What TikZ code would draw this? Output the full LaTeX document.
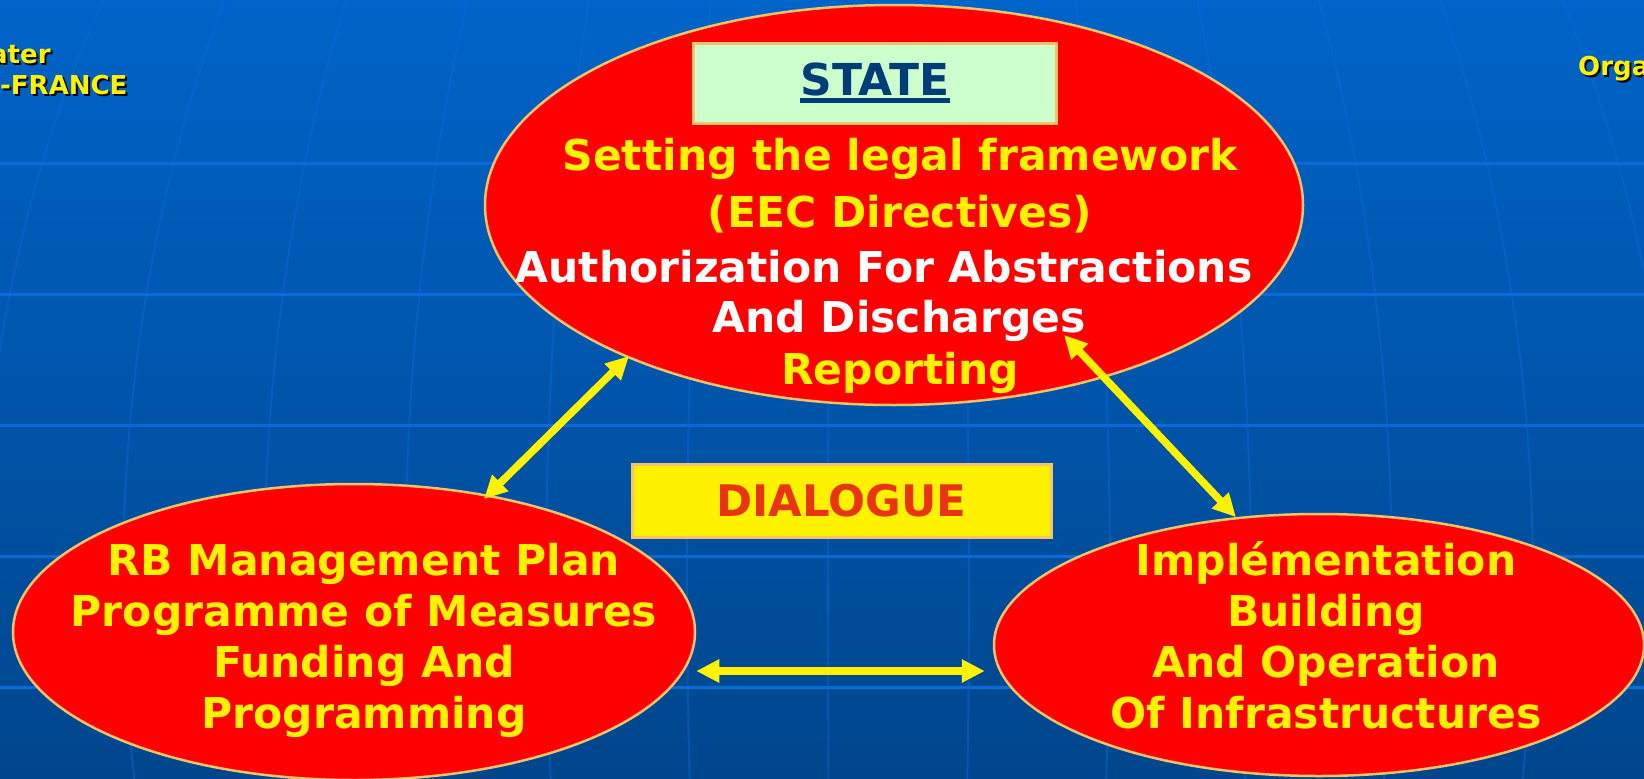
\documentclass[tikz,border=0pt]{standalone}
\usepackage{fontspec}
\setmainfont{DejaVu Sans}
\usetikzlibrary{arrows.meta,shapes.geometric}
\definecolor{bgtop}{HTML}{0064C8}
\definecolor{bgbot}{HTML}{00468C}
\definecolor{gridblue}{HTML}{0A6ADA}
\definecolor{rimorange}{HTML}{F5C46A}
\definecolor{statenavy}{HTML}{003C78}
\definecolor{palegreen}{HTML}{CCFFCC}
\definecolor{dlgred}{HTML}{E8350F}
\tikzset{
  topic/.style={ellipse,draw=rimorange,line width=2.5pt,fill=red,inner sep=0pt},
  topictext/.style={font=\bfseries\fontsize{42.5}{51}\selectfont,align=center,text=yellow,inner sep=0pt},
  label box/.style={draw=rimorange,line width=3pt,inner sep=0pt},
  link/.style={<->,>={Triangle[length=23pt,width=22pt]},draw=yellow,line width=7.5pt},
  headtext/.style={font=\bfseries\fontsize{26}{30}\selectfont,text=yellow,anchor=base west,inner sep=0pt},
  gridline/.style={draw=gridblue,line width=3pt},
  meridian/.style={draw=gridblue,line width=2pt,opacity=0.45}
}
\newcommand\shadowed[1]{\leavevmode\rlap{\kern2pt\raisebox{-2pt}{\color{black}#1}}#1}
\newcommand\whiteline[2][32pt]{\mbox{\textcolor{white}{#2}\hspace{#1}}}

\begin{document}
\begin{tikzpicture}[x=1pt,y=-1pt]

  \useasboundingbox (0,0) rectangle (1644,779);
  \shade[top color=bgtop,bottom color=bgbot] (0,0) rectangle (1644,779);

  \foreach \gy in {163,294,425,556,687}
    \draw[gridline] (0,\gy) -- (1644,\gy);
  \foreach \k in {-6,...,6}
    \draw[meridian] plot[domain=0:779,samples=25] ({860+(141*\k-32)*sqrt(1-((\x-580)/1146)^2)},\x);

  \node[headtext] (hdwater) at (-10,63) {\shadowed{ater}};
  \node[headtext] (hdfrance) at (0,94) {\shadowed{-FRANCE}};
  \node[headtext] (hdorga) at (1578,75) {\shadowed{Orga}};

  \node[topic,minimum width=818pt,minimum height=400pt] (state) at (894,205) {};
  \node[topic,minimum width=682pt,minimum height=296pt] (plan) at (354,632) {};
  \node[topic,minimum width=650pt,minimum height=262pt] (impl) at (1319,645) {};

  \node[label box,fill=palegreen,minimum width=363pt,minimum height=80pt] (statebox) at (874.5,83) {};
  \node[font=\bfseries\fontsize{44}{50}\selectfont,text=statenavy,inner sep=0pt,anchor=base] (statelbl) at (875,95) {STATE};
  \draw[statenavy,line width=4.5pt] ([yshift=-5.5pt]statelbl.base west) -- ([yshift=-5.5pt]statelbl.base east);

  \node[topictext] (statetxt) at (900,265.5) {Setting the legal framework\\[6pt]
    (EEC Directives)\\[4pt]
    \whiteline{Authorization For Abstractions}\\[-1pt]
    \whiteline[2pt]{And Discharges}\\[1pt]
    Reporting};
  \node[topictext] (plantxt) at (364,640) {RB Management Plan\\Programme of Measures\\Funding And\\Programming};
  \node[topictext] (impltxt) at (1326,635) {Implémentation\\Building\\And Operation\\Of Infrastructures};

  \node[label box,fill=yellow,minimum width=419pt,minimum height=73pt,font=\bfseries\fontsize{43.5}{50}\selectfont,text=dlgred] (dialogue) at (841.5,500.5) {DIALOGUE};

  \coordinate (discharges) at (1064,335);
  \draw[link] ([shift={(-265,151)}]state.center) -- ([shift={(130,-133)}]plan.center);
  \draw[link] (discharges) -- (impl.123);
  \draw[link,shorten >=8pt] ([yshift=-39pt]plan.east) -- ([yshift=-26pt]impl.west);

\end{tikzpicture}
\end{document}
